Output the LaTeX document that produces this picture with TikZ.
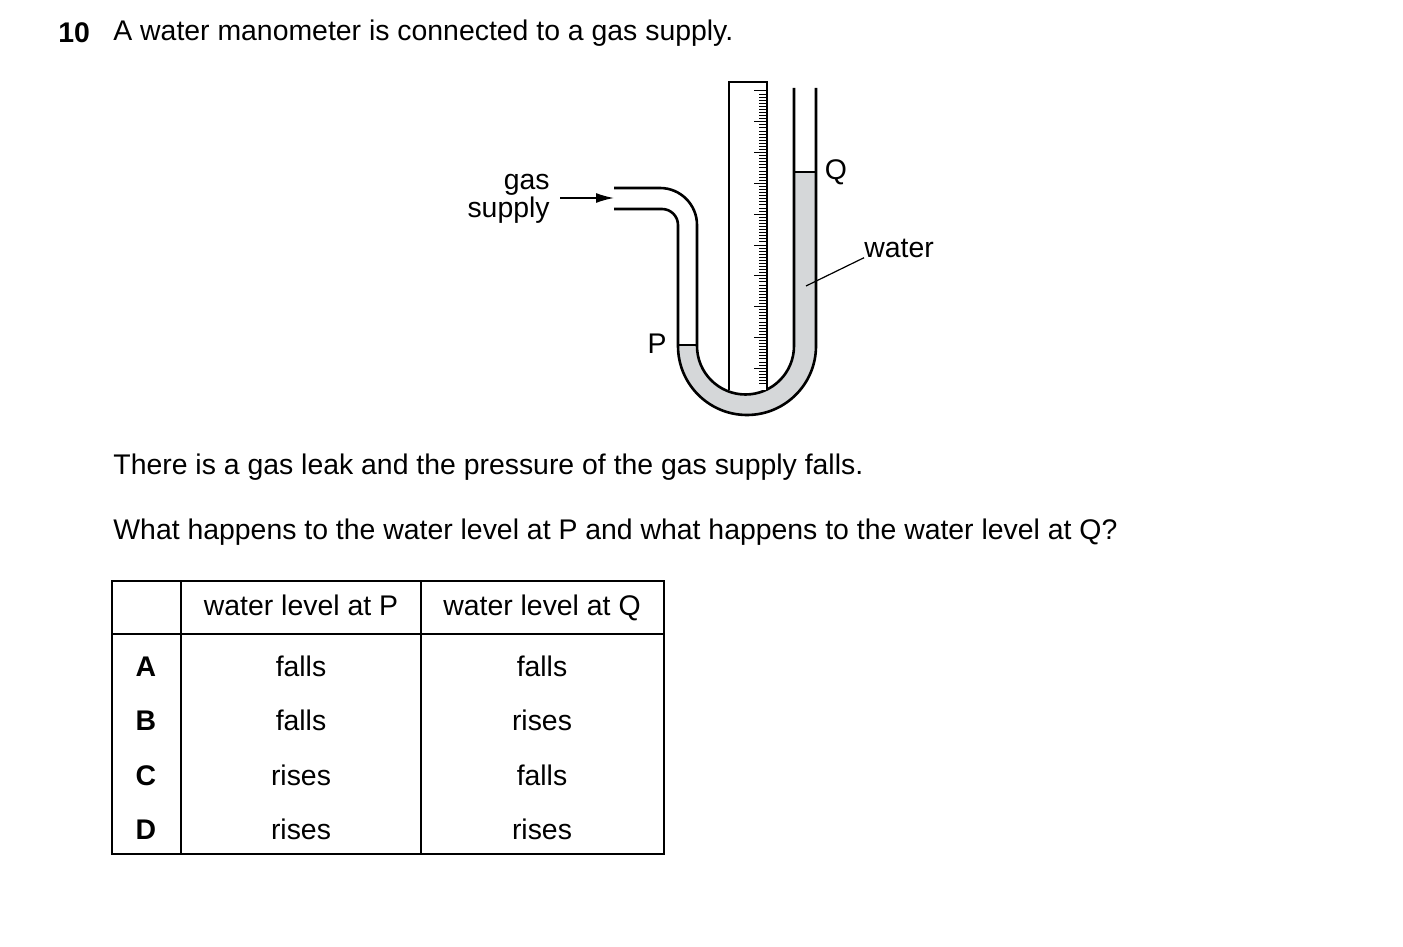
\documentclass[tikz,border=0pt]{standalone}
\usepackage{fontspec}
\setmainfont{Liberation Sans}
\usetikzlibrary{arrows.meta}
\begin{document}
\begin{tikzpicture}[x=0.5pt,y=-0.5pt]
    % Define styles
    \tikzset{
        txt/.style={font=\fontsize{14.2}{16}\selectfont, inner sep=0pt},
        tube/.style={line width=1.3pt},
        tick/.style={line width=0.4pt},
        cell/.style={font=\fontsize{14.2}{16}\selectfont, inner sep=0pt, text height=10pt, text depth=3pt}
    }
    \definecolor{waterfill}{RGB}{213,215,217}
    \useasboundingbox (0,0) rectangle (1403,947);

    % Question text
    \node[txt, font=\fontsize{14.2}{16}\selectfont\bfseries, anchor=west] (num) at (58,33) {10};
    \node[txt, anchor=west] (intro) at (113,33) {A water manometer is connected to a gas supply.};

    % Water in the U-tube
    \fill[waterfill] (678,345) -- (678,346) arc[start angle=180, end angle=0, radius=69]
        -- (816,172) -- (794,172) -- (794,346)
        arc[start angle=0, end angle=180, radius=48.5] -- (697,345) -- cycle;

    % Tube walls
    \draw[tube] (614,188) -- (660,188) arc[start angle=-90, end angle=0, radius=37] -- (697,346)
        arc[start angle=180, end angle=0, radius=48.5] -- (794,88);
    \draw[tube] (614,209) -- (662,209) arc[start angle=-90, end angle=0, radius=16] -- (678,346)
        arc[start angle=180, end angle=0, radius=69] -- (816,88);
    \draw[tube, line width=0.9pt] (678,345) -- (697,345);
    \draw[tube, line width=0.9pt] (794,172) -- (816,172);

    % Ruler
    \draw[fill=white, tube] (729,390) -- (729,82) -- (767,82) -- (767,390);
    \foreach \k in {0,...,95} {
        \pgfmathsetmacro{\yy}{90.9+3.08*\k}
        \pgfmathtruncatemacro{\md}{mod(\k,10)}
        \ifnum\md=0
            \draw[tick] (754,\yy) -- (767,\yy);
        \else
            \draw[tick] (759,\yy) -- (767,\yy);
        \fi
    }

    % Labels
    \node[txt, align=right, anchor=east, font=\fontsize{14.2}{14}\selectfont] (gas) at (550,199) {gas\\supply};
    \coordinate (gasstart) at (560,198);
    \coordinate (gasend) at (614,198);
    \draw[-{Latex[length=9pt,width=5pt]}, line width=0.8pt] (gasstart) -- (gasend);
    \node[txt] (p) at (657,344) {P};
    \node[txt] (q) at (836,172) {Q};
    \node[txt, anchor=west] (water) at (864,248) {water};
    \coordinate (wpt) at (806,286);
    \draw[line width=0.6pt] (wpt) -- (water.south west);

    % Question text
    \node[txt, anchor=west] (leak) at (113,467) {There is a gas leak and the pressure of the gas supply falls.};
    \node[txt, anchor=west] (ask) at (113,532) {What happens to the water level at P and what happens to the water level at Q?};

    % Answer table
    \draw[line width=0.8pt] (112,581) rectangle (664,854);
    \draw[line width=0.8pt] (181,581) -- (181,854);
    \draw[line width=0.8pt] (421,581) -- (421,854);
    \draw[line width=0.8pt] (112,634) -- (664,634);
    \node[cell] (hp) at (301,608) {water level at P};
    \node[cell] (hq) at (542,608) {water level at Q};
    \foreach \lt/\pp/\qq/\yy in {A/falls/falls/669, B/falls/rises/723, C/rises/falls/778, D/rises/rises/832} {
        \node[cell, font=\fontsize{14.2}{16}\selectfont\bfseries] (l\lt) at (146,\yy) {\lt};
        \node[cell] (p\lt) at (301,\yy) {\pp};
        \node[cell] (q\lt) at (542,\yy) {\qq};
    }
\end{tikzpicture}
\end{document}
